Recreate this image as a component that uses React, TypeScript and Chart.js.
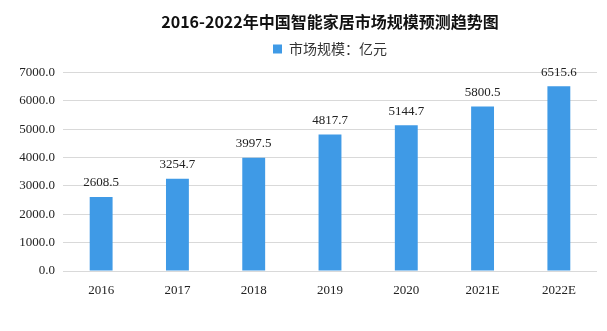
import { useEffect, useRef } from 'react';
import { Chart, registerables } from 'chart.js';

Chart.register(...registerables);

const titleText = '2016-2022年中国智能家居市场规模预测趋势图';
const seriesLabel = '市场规模：亿元';
const categories = ['2016', '2017', '2018', '2019', '2020', '2021E', '2022E'];
const marketSize = [2608.5, 3254.7, 3997.5, 4817.7, 5144.7, 5800.5, 6515.6];
const yMin = 0;
const yMax = 7000;
const yStep = 1000;

const BAR_COLOR = '#3f9ae6';
const NUM_FONT = '"Liberation Serif", "DejaVu Serif", serif';
const CJK_FONT = '"Noto Sans CJK SC", "Noto Sans", sans-serif';

const valueLabels = {
  id: 'valueLabels',
  afterDatasetsDraw(chart: any) {
    const ctx = chart.ctx;
    const meta = chart.getDatasetMeta(0);
    const data = chart.data.datasets[0].data as number[];
    ctx.save();
    ctx.font = `13px ${NUM_FONT}`;
    ctx.fillStyle = '#222';
    ctx.textAlign = 'center';
    ctx.textBaseline = 'middle';
    meta.data.forEach((el: any, i: number) => {
      ctx.fillText(Number(data[i]).toFixed(1), el.x, el.y - 14);
    });
    ctx.restore();
  },
};

export default function App() {
  const ref = useRef<HTMLCanvasElement | null>(null);

  useEffect(() => {
    if (!ref.current) return;
    const chart = new Chart(ref.current, {
      type: 'bar',
      data: {
        labels: categories,
        datasets: [
          {
            label: seriesLabel,
            data: marketSize,
            backgroundColor: BAR_COLOR,
            borderWidth: 0,
            barPercentage: 0.3,
            categoryPercentage: 1,
          },
        ],
      },
      options: {
        responsive: false,
        animation: false,
        devicePixelRatio: 1,
        layout: { padding: { left: 15, right: 10, top: 0, bottom: 20 } },
        plugins: {
          title: {
            display: true,
            text: titleText,
            fullSize: false,
            color: '#111',
            font: { family: CJK_FONT, size: 16, weight: 'bold', lineHeight: 1.25 },
            padding: { top: 12, bottom: 0 },
          },
          subtitle: {
            display: true,
            text: '',
            weight: 500,
            fullSize: false,
            font: { size: 6.6, lineHeight: 1 },
            padding: { top: 0, bottom: 0 },
          },
          legend: {
            display: true,
            position: 'top',
            fullSize: false,
            labels: {
              boxWidth: 9,
              boxHeight: 9,
              padding: 10,
              color: '#333',
              font: { family: CJK_FONT, size: 14 },
            },
          },
          tooltip: { enabled: false },
        },
        scales: {
          x: {
            grid: { display: false, drawTicks: false },
            border: { display: false },
            ticks: {
              color: '#222',
              padding: 12,
              font: { family: NUM_FONT, size: 13 },
            },
            afterFit(scale: any) {
              scale.height = 40;
            },
          },
          y: {
            min: yMin,
            max: yMax,
            grid: { color: '#d9d9d9', drawTicks: false, lineWidth: 1 },
            border: { display: false },
            ticks: {
              stepSize: yStep,
              color: '#222',
              padding: 8,
              font: { family: NUM_FONT, size: 13 },
              callback: (v: any) => Number(v).toFixed(1),
            },
            afterFit(scale: any) {
              scale.width = 48;
            },
          },
        },
      },
      plugins: [valueLabels],
    } as any);
    return () => chart.destroy();
  }, []);

  return (
    <div style={{ position: 'absolute', left: 0, top: 0, width: 607, height: 331, background: '#fff' }}>
      <canvas ref={ref} width={607} height={331} style={{ display: 'block' }} />
    </div>
  );
}
